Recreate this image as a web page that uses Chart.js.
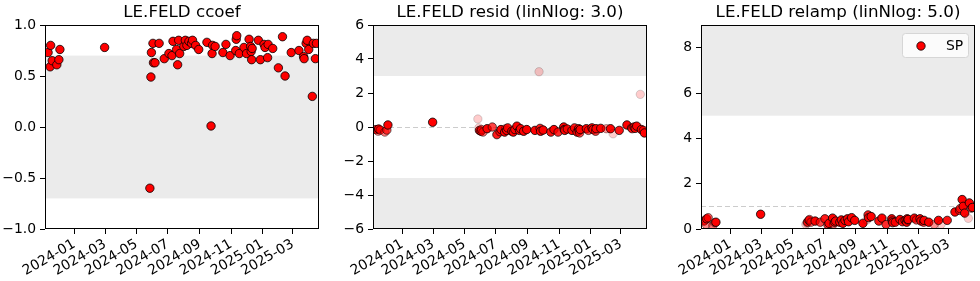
<!DOCTYPE html>
<html>
<head>
<meta charset="utf-8">
<script src="https://cdn.jsdelivr.net/npm/chart.js@4.4.0/dist/chart.umd.min.js"></script>
<style>
    body { margin: 0; background: #fff; }
    canvas { position: absolute; top: 0; }
</style>
</head>
<body>
<canvas id="c1" width="330" height="281" style="left:0px"></canvas>
<canvas id="c2" width="328" height="281" style="left:330px"></canvas>
<canvas id="c3" width="322" height="281" style="left:658px"></canvas>
<script>
// Observation dates shared by the three panels
const dates = [
    '2023-11-11', '2023-11-15', '2023-11-16', '2023-11-19', '2023-11-28', '2023-12-02', '2023-12-04',
    '2024-02-29',
    '2024-05-27', '2024-05-29', '2024-05-30', '2024-06-02', '2024-06-03', '2024-06-06', '2024-06-14',
    '2024-06-24', '2024-07-03', '2024-07-09', '2024-07-11', '2024-07-18', '2024-07-20', '2024-07-22',
    '2024-07-24', '2024-08-01', '2024-08-04', '2024-08-07', '2024-08-11', '2024-08-16', '2024-08-18',
    '2024-08-24', '2024-08-30', '2024-09-15', '2024-09-23', '2024-09-25', '2024-09-26', '2024-10-01',
    '2024-10-16', '2024-10-22', '2024-10-30', '2024-11-10', '2024-11-11', '2024-11-12', '2024-11-17',
    '2024-11-26', '2024-12-01', '2024-12-06', '2024-12-09', '2024-12-10', '2024-12-11', '2024-12-12',
    '2024-12-24', '2024-12-28', '2025-01-04', '2025-01-06', '2025-01-11', '2025-01-12', '2025-01-21',
    '2025-02-01', '2025-02-09', '2025-02-14', '2025-02-26', '2025-03-13', '2025-03-22', '2025-03-23',
    '2025-03-27', '2025-03-29', '2025-04-01', '2025-04-08', '2025-04-10', '2025-04-14', '2025-04-16'
];

const ccoef = [
    0.73, 0.59, 0.80, 0.65, 0.61, 0.66, 0.76,
    0.78,
    -0.60, 0.49, 0.73, 0.82, 0.63, 0.63, 0.82,
    0.67, 0.72, 0.70, 0.84, 0.76, 0.61, 0.85,
    0.72, 0.79, 0.85, 0.80, 0.84, 0.82, 0.85,
    0.80, 0.76, 0.83, 0.01, 0.72, 0.80, 0.79,
    0.73, 0.81, 0.70, 0.75, 0.86, 0.895, 0.72,
    0.78, 0.72, 0.86, 0.79, 0.74, 0.66, 0.77,
    0.85, 0.66, 0.81, 0.78, 0.68, 0.81, 0.77,
    0.58, 0.885, 0.50, 0.73, 0.75, 0.69, 0.67,
    0.82, 0.85, 0.76, 0.30, 0.82, 0.67, 0.82
];

const resid = [
    -0.15, -0.25, -0.12, -0.18, -0.30, -0.18, 0.12,
    0.28,
    0.47, -0.05, -0.20, -0.25, -0.15, -0.30, -0.10,
    0.00, -0.45, -0.28, -0.15, -0.30, -0.10, -0.20,
    -0.05, -0.25, -0.30, -0.15, 0.05, -0.20, -0.10,
    -0.25, -0.15, -0.20, 3.25, -0.08, -0.25, -0.18,
    -0.30, -0.15, -0.30, 0.00, -0.15, -0.20, -0.12,
    -0.20, -0.05, -0.30, -0.10, -0.22, -0.35, -0.15,
    -0.10, -0.20, -0.05, -0.15, -0.25, -0.10, -0.08,
    -0.10, -0.10, -0.40, -0.20, 0.12, -0.05, -0.10,
    0.00, -0.08, 0.05, 1.92, -0.15, -0.20, -0.35
];

const relamp = [
    0.35, 0.20, 0.45, 0.50, 0.15, 0.28, 0.30,
    0.65,
    0.20, 0.25, 0.30, 0.38, 0.42, 0.30, 0.35,
    0.30, 0.45, 0.18, 0.25, 0.48, 0.22, 0.30,
    0.35, 0.30, 0.40, 0.25, 0.38, 0.45, 0.32,
    0.50, 0.38, 0.25, 0.40, 0.62, 0.50, 0.55,
    0.35, 0.48, 0.20, 0.45, 0.35, 0.28, 0.30,
    0.42, 0.32, 0.38, 0.30, 0.45, 0.40, 0.42,
    0.48, 0.40, 0.45, 0.35, 0.30, 0.38, 0.30,
    0.20, 0.38, 0.20, 0.38, 0.75, 0.82, 0.90,
    1.30, 1.00, 0.70, 0.47, 1.15, 0.92, 0.95
];

const xRange = ['2023-11-05', '2025-04-21'];
const xTickLabels = ['2024-01', '2024-03', '2024-05', '2024-07', '2024-09', '2024-11', '2025-01', '2025-03'];
const ccoefTicks = [-1, -0.5, 0, 0.5, 1];
const residTicks = [-6, -4, -2, 0, 2, 4, 6];
const relampTicks = [0, 2, 4, 6, 8];

const FONT = "'DejaVu Sans', sans-serif";

function toTime(s) {
    const p = s.split('-').map(Number);
    return Date.UTC(p[0], p[1] - 1, p[2] || 1);
}

function fmtMonth(v) {
    const d = new Date(v);
    return d.getUTCFullYear() + '-' + String(d.getUTCMonth() + 1).padStart(2, '0');
}

// weaker correlation -> fainter marker (resid / relamp panels only)
function pointAlpha(c) {
    return Math.max(0.2, Math.min(1, (c - 0.45) / 0.3));
}

const panelDecor = {
    id: 'panelDecor',
    beforeDatasetsDraw(chart, args, opts) {
        const { ctx, chartArea: a } = chart;
        const y = chart.scales.y;
        ctx.save();
        opts.bands.forEach(([lo, hi]) => {
            const top = y.getPixelForValue(hi);
            const bot = y.getPixelForValue(lo);
            ctx.fillStyle = '#ebebeb';
            ctx.fillRect(a.left, top, a.right - a.left, bot - top);
        });
        if (opts.refLine !== null) {
            const py = Math.round(y.getPixelForValue(opts.refLine)) + 0.5;
            ctx.strokeStyle = '#cccccc';
            ctx.lineWidth = 1;
            ctx.setLineDash([5, 3]);
            ctx.beginPath();
            ctx.moveTo(a.left, py);
            ctx.lineTo(a.right, py);
            ctx.stroke();
        }
        ctx.restore();
    },
    afterDraw(chart, args, opts) {
        const { ctx, chartArea: a } = chart;
        ctx.save();
        // axes frame
        ctx.strokeStyle = '#000';
        ctx.lineWidth = 1;
        ctx.strokeRect(Math.round(a.left) + 0.5, Math.round(a.top) + 0.5,
            Math.round(a.right - a.left) - 1, Math.round(a.bottom - a.top) - 1);
        // title
        ctx.fillStyle = '#000';
        ctx.font = '16.7px ' + FONT;
        ctx.textAlign = 'center';
        ctx.textBaseline = 'alphabetic';
        ctx.fillText(opts.title, (a.left + a.right) / 2, a.top - 8);
        // legend
        if (opts.legend) {
            const w = 66, h = 24;
            const bx = a.right - 7 - w, by = a.top + 8;
            ctx.beginPath();
            ctx.roundRect(bx + 0.5, by + 0.5, w, h, 3);
            ctx.fillStyle = 'rgba(255,255,255,0.8)';
            ctx.fill();
            ctx.strokeStyle = '#d6d6d6';
            ctx.stroke();
            ctx.beginPath();
            ctx.arc(bx + 19, by + 13, 4.2, 0, Math.PI * 2);
            ctx.fillStyle = '#ff0000';
            ctx.fill();
            ctx.strokeStyle = '#000';
            ctx.lineWidth = 0.8;
            ctx.stroke();
            ctx.fillStyle = '#000';
            ctx.font = '13.9px ' + FONT;
            ctx.textAlign = 'left';
            ctx.textBaseline = 'middle';
            ctx.fillText(opts.legend, bx + 44, by + 13);
        }
        ctx.restore();
    }
};

function makePanel(id, title, values, yMin, yMax, yTicks, decimals, bands, refLine, leftW, rightPad, legend, faded) {
    const canvas = document.getElementById(id);
    const points = dates.map((d, i) => ({ x: toTime(d), y: values[i] }));
    const alphas = ccoef.map(c => faded ? pointAlpha(c) : 1);

    return new Chart(canvas.getContext('2d'), {
        type: 'scatter',
        data: {
            datasets: [{
                label: 'SP',
                data: points,
                pointRadius: 4.2,
                pointBorderWidth: 0.8,
                backgroundColor: (c) => `rgba(255,0,0,${alphas[c.dataIndex]})`,
                borderColor: (c) => `rgba(0,0,0,${alphas[c.dataIndex]})`,
                clip: 0
            }]
        },
        options: {
            responsive: false,
            animation: false,
            layout: { padding: { top: 25, right: rightPad, left: 0, bottom: 0 } },
            plugins: {
                legend: { display: false },
                tooltip: { enabled: false },
                panelDecor: { title: title, bands: bands, refLine: refLine, legend: legend }
            },
            scales: {
                x: {
                    type: 'linear',
                    min: toTime(xRange[0]),
                    max: toTime(xRange[1]),
                    afterBuildTicks: (s) => { s.ticks = xTickLabels.map(t => ({ value: toTime(t) })); },
                    afterFit: (s) => { s.height = 52; },
                    grid: { drawOnChartArea: false, tickLength: 5, color: '#000' },
                    border: { display: false },
                    ticks: {
                        autoSkip: false,
                        minRotation: 30,
                        maxRotation: 30,
                        padding: 2,
                        color: '#000',
                        font: { family: FONT, size: 13.9 },
                        callback: (v) => fmtMonth(v)
                    }
                },
                y: {
                    min: yMin,
                    max: yMax,
                    afterBuildTicks: (s) => { s.ticks = yTicks.map(v => ({ value: v })); },
                    afterFit: (s) => { s.width = leftW; },
                    grid: { drawOnChartArea: false, tickLength: 5, color: '#000' },
                    border: { display: false },
                    ticks: {
                        padding: 4,
                        color: '#000',
                        font: { family: FONT, size: 13.9 },
                        callback: (v) => v.toFixed(decimals).replace('-', '\u2212')
                    }
                }
            }
        },
        plugins: [panelDecor]
    });
}

makePanel('c1', 'LE.FELD ccoef', ccoef, -1, 1, ccoefTicks, 1, [[-0.7, 0.7]], null, 45, 11, null, false);
makePanel('c2', 'LE.FELD resid (linNlog: 3.0)', resid, -6, 6, residTicks, 0, [[3, 6], [-6, -3]], 0, 43, 11, null, true);
makePanel('c3', 'LE.FELD relamp (linNlog: 5.0)', relamp, 0, 9, relampTicks, 0, [[5, 9]], 1, 43, 5, 'SP', true);
</script>
</body>
</html>
